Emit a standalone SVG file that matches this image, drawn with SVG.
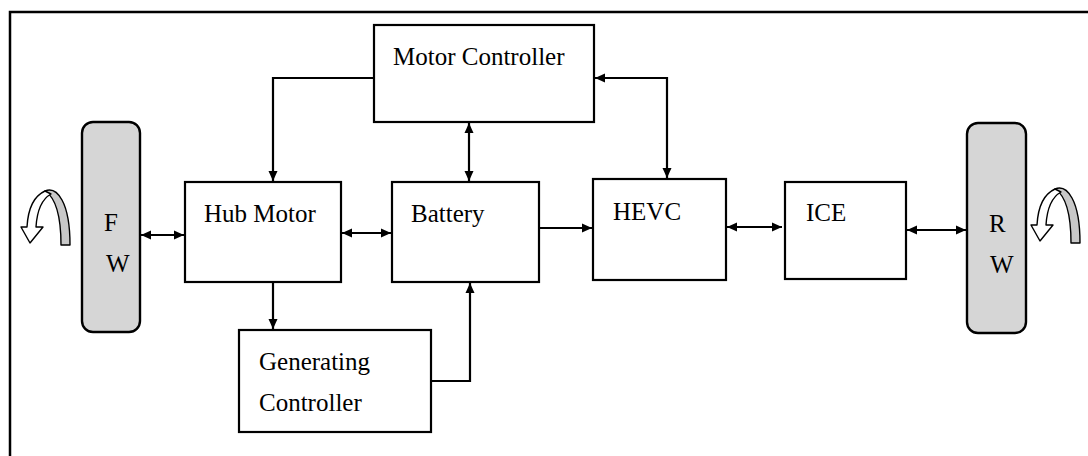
<svg xmlns="http://www.w3.org/2000/svg" width="1088" height="456" viewBox="0 0 1088 456">
<style>
.box{fill:#fff;stroke:#000;stroke-width:2.2}
.wheel{fill:#d6d6d6;stroke:#000;stroke-width:2.4}
.lbl{font-family:"Liberation Serif","Times New Roman",serif;font-size:25px;fill:#000}
.con{fill:none;stroke:#000;stroke-width:2.2}
.frame{fill:none;stroke:#000;stroke-width:2.5}
.rib{stroke:#000;stroke-width:1.4;stroke-linejoin:round}
</style>
<defs>
<marker id="ah" viewBox="0 0 10 10" refX="10" refY="5" markerWidth="10" markerHeight="10" markerUnits="userSpaceOnUse" orient="auto-start-reverse">
<path d="M0,0.5 L10,5 L0,9.5 z" fill="#000"/>
</marker>
<g id="rot">
<path class="rib" fill="#c8c8c8" d="M45,191 C57,186 70,202 70,245 L61,245 C61,216 56,198 45,191 Z"/>
<path class="rib" fill="#fff" d="M45,191 C34,196 28,209 27,227 L21,227 L30,243 L43,227 L36,227 C37,211 42,199 51,194 Z"/>
</g>
</defs>
<rect width="1088" height="456" fill="#fff"/>
<path class="frame" d="M10,460 V12 H1090"/>
<g id="icon-left"><use href="#rot"/></g>
<g id="icon-right"><use href="#rot" transform="translate(1010,-2)"/></g>

<g id="connectors">
<path class="con" d="M374,78 H273 V181" marker-end="url(#ah)"/>
<path class="con" d="M595,78 H667 V178" marker-start="url(#ah)" marker-end="url(#ah)"/>
<path class="con" d="M469,123 V181" marker-start="url(#ah)" marker-end="url(#ah)"/>
<path class="con" d="M141,235 H184" marker-start="url(#ah)" marker-end="url(#ah)"/>
<path class="con" d="M342,233 H391" marker-start="url(#ah)" marker-end="url(#ah)"/>
<path class="con" d="M540,228 H592" marker-end="url(#ah)"/>
<path class="con" d="M727,227 H782" marker-start="url(#ah)" marker-end="url(#ah)"/>
<path class="con" d="M907,230 H966" marker-start="url(#ah)" marker-end="url(#ah)"/>
<path class="con" d="M273,283 V329" marker-end="url(#ah)"/>
<path class="con" d="M432,381 H470 V283" marker-end="url(#ah)"/>
</g>

<g id="fw">
<rect class="wheel" x="82" y="122" width="58" height="210" rx="11"/>
<text class="lbl" x="104" y="231">F</text>
<text class="lbl" x="106" y="272">W</text>
</g>
<g id="rw">
<rect class="wheel" x="967" y="123" width="59" height="210" rx="11"/>
<text class="lbl" x="989" y="232">R</text>
<text class="lbl" x="990" y="273">W</text>
</g>
<g id="motor-controller">
<rect class="box" x="374" y="25" width="220" height="97"/>
<text class="lbl" x="393" y="65">Motor Controller</text>
</g>
<g id="hub-motor">
<rect class="box" x="185" y="182" width="156" height="100"/>
<text class="lbl" x="204" y="222">Hub Motor</text>
</g>
<g id="battery">
<rect class="box" x="392" y="182" width="147" height="100"/>
<text class="lbl" x="411" y="222">Battery</text>
</g>
<g id="hevc">
<rect class="box" x="593" y="179" width="133" height="101"/>
<text class="lbl" x="613" y="220">HEVC</text>
</g>
<g id="ice">
<rect class="box" x="785" y="182" width="121" height="97"/>
<text class="lbl" x="806" y="221">ICE</text>
</g>
<g id="generating-controller">
<rect class="box" x="239" y="330" width="192" height="102"/>
<text class="lbl" x="259" y="370">Generating</text>
<text class="lbl" x="259" y="411">Controller</text>
</g>
</svg>
